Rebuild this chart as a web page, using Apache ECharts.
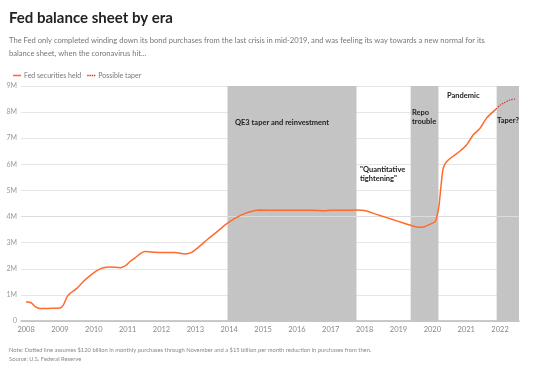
<!DOCTYPE html>
<html>
<head>
<meta charset="utf-8">
<script src="https://cdn.jsdelivr.net/npm/echarts@6/dist/echarts.min.js"></script>
<style>
html,body{margin:0;padding:0;background:#fff;}
#c{width:540px;height:374px;}
</style>
</head>
<body>
<div id="c"></div>
<script>
// ---- data ----
const heldYears = [2008.0,2008.15,2008.27,2008.41,2008.6,2008.8,2009.0,2009.1,2009.2,2009.3,2009.5,2009.69,2009.89,2010.09,2010.28,2010.48,2010.78,2010.97,2011.07,2011.22,2011.4,2011.51,2011.81,2012.1,2012.4,2012.7,2012.89,2013.09,2013.38,2013.68,2013.88,2014.17,2014.47,2014.76,2014.9,2015.5,2016.0,2016.5,2016.8,2017.0,2017.5,2017.75,2018.0,2018.2,2018.5,2018.8,2019.1,2019.39,2019.64,2019.74,2019.89,2020.08,2020.13,2020.2,2020.23,2020.28,2020.32,2020.42,2020.62,2020.82,2021.01,2021.21,2021.41,2021.6,2021.8,2021.88];
const heldValues = [0.74,0.70,0.55,0.48,0.48,0.49,0.50,0.61,0.90,1.06,1.25,1.51,1.74,1.93,2.04,2.07,2.04,2.15,2.28,2.42,2.60,2.66,2.63,2.62,2.62,2.57,2.63,2.82,3.15,3.46,3.68,3.93,4.12,4.23,4.25,4.24,4.24,4.24,4.22,4.24,4.24,4.25,4.23,4.15,4.02,3.90,3.77,3.65,3.59,3.60,3.68,3.80,3.98,4.44,4.83,5.47,5.85,6.10,6.32,6.51,6.74,7.13,7.38,7.77,8.02,8.12];
const taperYears = [2021.88,2022.0,2022.1,2022.3,2022.44];
const taperValues = [8.12,8.26,8.34,8.47,8.50];
const yearTicks = [2008,2009,2010,2011,2012,2013,2014,2015,2016,2017,2018,2019,2020,2021,2022];
const eraStarts = [2013.95,2019.36,2021.9];
const eraEnds = [2017.76,2020.18,2022.56];
const xMin = 2007.85, xMax = 2022.56;

const FONT = 'Lato, "Noto Sans", sans-serif';
const chart = echarts.init(document.getElementById('c'), null, {renderer:'canvas'});

const held = heldYears.map((y,i)=>[y, heldValues[i]]);
const taper = taperYears.map((y,i)=>[y, taperValues[i]]);
const bands = eraStarts.map((s,i)=>[{xAxis:s},{xAxis:eraEnds[i]}]);

chart.setOption({
  animation:false,
  textStyle:{fontFamily:FONT},
  grid:{left:21,right:21,top:86,bottom:53,containLabel:false},
  legend:{
    left:8, top:67, itemWidth:8, itemHeight:2, itemGap:6,
    textStyle:{fontSize:7,color:'#777',fontFamily:FONT,padding:[0,0,0,-2]},
    data:[
      {name:'Fed securities held',icon:'path://M0,0H8V1.6H0Z'},
      {name:'Possible taper',icon:'path://M0,0H1.4V1.6H0Z M2.2,0H3.6V1.6H2.2Z M4.4,0H5.8V1.6H4.4Z M6.6,0H8V1.6H6.6Z'}
    ]
  },
  xAxis:{
    type:'value', min:xMin, max:xMax,
    splitLine:{show:false},
    axisLine:{show:true,lineStyle:{color:'#bbb',width:1.5}},
    axisTick:{show:false},
    axisLabel:{customValues:yearTicks,formatter:v=>String(Math.round(v)),color:'#888',fontSize:7.5,margin:5,fontFamily:FONT}
  },
  yAxis:{
    type:'value', min:0, max:9, interval:1,
    axisLine:{show:false}, axisTick:{show:false},
    splitLine:{lineStyle:{color:'#e6e6e6',width:1}},
    axisLabel:{formatter:v=>v===0?'0':v+'M',color:'#999',fontSize:7,margin:4,fontFamily:FONT}
  },
  series:[
    {
      name:'Fed securities held', type:'line', data:held, symbol:'none', smooth:0.2,
      lineStyle:{color:'#ff6b2d',width:1.5}, itemStyle:{color:'#ff6b2d'}, z:5,
      markArea:{silent:true,itemStyle:{color:'#c4c4c4'},data:bands,z:1},
      markLine:{silent:true,symbol:'none',label:{show:false},lineStyle:{color:'#dcdcdc',width:1.2,type:'solid'},data:[{yAxis:4}]}
    },
    {
      name:'Possible taper', type:'line', data:taper, symbol:'none', smooth:0.3,
      lineStyle:{color:'#d2362b',width:1.3,type:'dotted'}, itemStyle:{color:'#d2362b'}, z:5
    }
  ],
  graphic:[
    {type:'text',left:9,top:11,z:100,style:{text:'Fed balance sheet by era',font:'bold 15px '+FONT,fill:'#222'}},
    {type:'text',left:9,top:34,z:100,style:{text:'The Fed only completed winding down its bond purchases from the last crisis in mid-2019, and was feeling its way towards a new normal for its\nbalance sheet, when the coronavirus hit...',font:'7.6px '+FONT,fill:'#777',lineHeight:13}},
    {type:'text',left:235,top:119,z:100,style:{text:'QE3 taper and reinvestment',font:'bold 7.5px '+FONT,fill:'#222'}},
    {type:'text',left:360,top:165,z:100,style:{text:'"Quantitative\ntightening"',font:'bold 7.5px '+FONT,fill:'#222',lineHeight:9}},
    {type:'text',left:412,top:108,z:100,style:{text:'Repo\ntrouble',font:'bold 7.5px '+FONT,fill:'#222',lineHeight:9}},
    {type:'text',left:447,top:92,z:100,style:{text:'Pandemic',font:'bold 7.5px '+FONT,fill:'#222'}},
    {type:'text',left:497,top:117,z:100,style:{text:'Taper?',font:'bold 7.5px '+FONT,fill:'#222'}},
    {type:'text',left:9,top:346,z:100,style:{text:'Note: Dotted line assumes $120 billion in monthly purchases through November and a $15 billion per month reduction in purchases from then.\nSource: U.S. Federal Reserve',font:'5.8px '+FONT,fill:'#888',lineHeight:9}}
  ]
});
</script>
</body>
</html>
